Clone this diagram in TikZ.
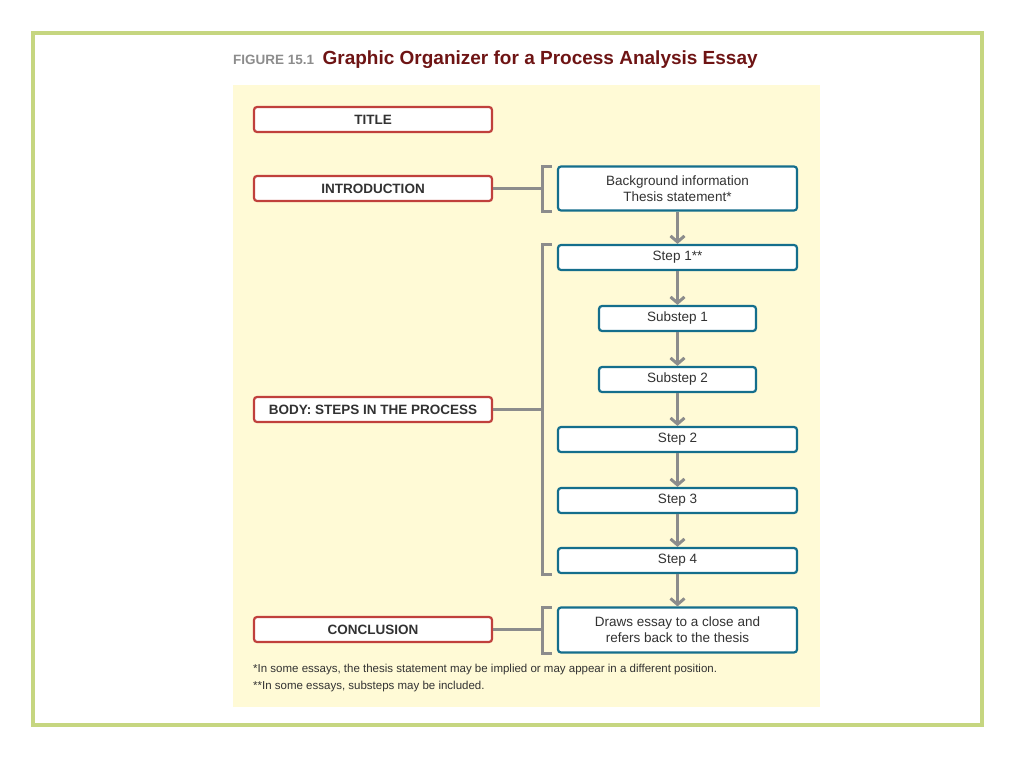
\documentclass[tikz,border=0pt]{standalone}
\usepackage{fontspec}
\setmainfont{Liberation Sans}
\usetikzlibrary{arrows.meta}
\usetikzlibrary{positioning}
\definecolor{frame}{RGB}{198,214,128}
\definecolor{panel}{RGB}{255,250,214}
\definecolor{redb}{RGB}{192,64,60}
\definecolor{blueb}{RGB}{20,110,140}
\definecolor{grayl}{RGB}{140,140,140}
\definecolor{titred}{RGB}{110,20,20}
\definecolor{txt}{RGB}{50,50,50}
\tikzset{
  part/.style={draw=redb, line width=2.2pt, fill=white, rounded corners=3pt,
    minimum width=238pt, minimum height=25pt, font=\fontsize{13.5}{15}\selectfont\bfseries, text=txt},
  wide/.style={draw=blueb, line width=2.2pt, fill=white, rounded corners=3pt,
    minimum width=239pt, minimum height=25pt, align=center, font=\fontsize{13.5}{16}\selectfont, text=txt},
  sub/.style={wide, minimum width=157pt},
  flow/.style={grayl, line width=3pt, -{Straight Barb[length=6pt,width=14pt]}},
  link/.style={grayl, line width=3pt},
  brak/.style={grayl, line width=3pt}
}
\begin{document}
\begin{tikzpicture}[x=1pt,y=-1pt]
\useasboundingbox (0,0) rectangle (1024,768);
\draw[frame, line width=4pt] (33,33) rectangle (982,725);
\fill[panel] (233,85) rectangle (820,707);
\node[anchor=base west, inner sep=0pt, text=grayl, font=\fontsize{13.5}{15}\selectfont\bfseries] (fig) at (233,64) {FIGURE 15.1};
\node[inner sep=0pt, text=titred, font=\fontsize{19}{22}\selectfont\bfseries, right=8pt of fig.base east, anchor=base west] (head) {Graphic Organizer for a Process Analysis Essay};

% left column
\node[part] (title) at (373,119.5) {TITLE};
\node[part] (intro) at (373,188.5) {INTRODUCTION};
\node[part] (body) at (373,409.5) {BODY: STEPS IN THE PROCESS};
\node[part] (concl) at (373,629.5) {CONCLUSION};

% right column
\node[wide, minimum height=44pt] (bg) at (677.5,188.5) {Background information\\Thesis statement*};
\node[wide] (s1) at (677.5,257.5) {Step 1**};
\node[sub] (ss1) at (677.5,318.5) {Substep 1};
\node[sub] (ss2) at (677.5,379.5) {Substep 2};
\node[wide] (s2) at (677.5,439.5) {Step 2};
\node[wide] (s3) at (677.5,500.5) {Step 3};
\node[wide] (s4) at (677.5,560.5) {Step 4};
\node[wide, minimum height=45pt] (close) at (677.5,630) {Draws essay to a close and\\refers back to the thesis};

\foreach \a/\b in {bg/s1, s1/ss1, ss1/ss2, ss2/s2, s2/s3, s3/s4, s4/close}
  \draw[flow] (\a.south) -- (\b.north);

% brackets
\draw[brak] (552,166) -- (542,166) -- (542,211) -- (552,211);
\draw[brak] (552,244) -- (542,244) -- (542,574) -- (552,574);
\draw[brak] (552,607) -- (542,607) -- (542,653) -- (552,653);
\coordinate (bi) at (542,188.5);
\coordinate (bb) at (542,409.5);
\coordinate (bc) at (542,629.5);
\draw[link] (intro.east) -- (bi);
\draw[link] (body.east) -- (bb);
\draw[link] (concl.east) -- (bc);

% notes
\node[anchor=base west, inner sep=0pt, text=txt, font=\fontsize{11.5}{13}\selectfont] (n1) at (253,672) {*In some essays, the thesis statement may be implied or may appear in a different position.};
\node[anchor=base west, inner sep=0pt, text=txt, font=\fontsize{11.5}{13}\selectfont] (n2) at (253,689) {**In some essays, substeps may be included.};
\end{tikzpicture}
\end{document}
